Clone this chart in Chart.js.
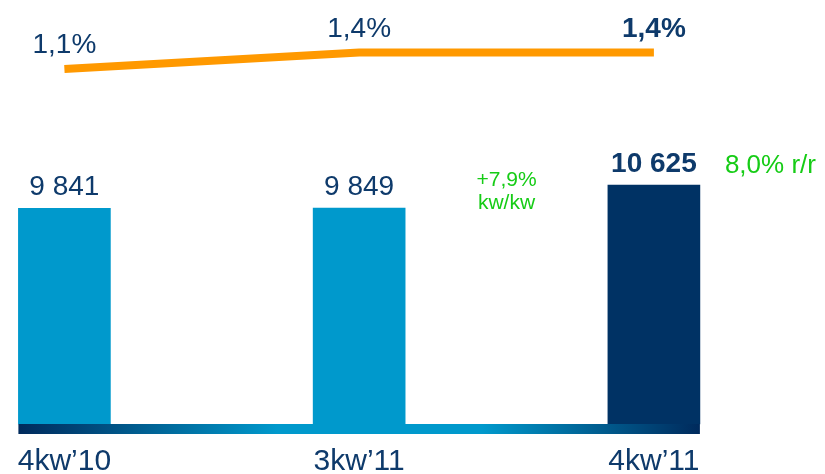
<!DOCTYPE html>
<html>
<head>
<meta charset="utf-8">
<script src="https://cdn.jsdelivr.net/npm/chart.js@4/dist/chart.umd.min.js"></script>
<style>
  html, body { margin: 0; padding: 0; background: #ffffff; }
  #wrap { width: 825px; height: 474px; position: relative; }
</style>
</head>
<body>
<div id="wrap"><canvas id="c"></canvas></div>
<script>
// ---- data ----
const categories = ['4kw\u201910', '3kw\u201911', '4kw\u201911'];
const barValues = [9841, 9849, 10625];
const barLabels = ['9 841', '9 849', '10 625'];
const lineValues = [1.1, 1.4, 1.4];
const lineLabels = ['1,1%', '1,4%', '1,4%'];
const qoqNote = ['+7,9%', 'kw/kw'];
const yoyNote = '8,0% r/r';

const NAVY = '#0E3A6B';
const GREEN = '#16CC16';
const barColors = ['#0099CC', '#0099CC', '#003264'];

const FONT = '"Liberation Sans", Arial, sans-serif';
const Y_MIN = 2600;

const labelPlugin = {
  id: 'labels',
  afterDatasetsDraw(chart) {
    const ctx = chart.ctx;
    const barMeta = chart.getDatasetMeta(1);
    const lineMeta = chart.getDatasetMeta(0);
    const last = barValues.length - 1;
    ctx.save();
    ctx.textAlign = 'center';
    ctx.textBaseline = 'alphabetic';
    ctx.fillStyle = NAVY;
    // bar value labels
    barMeta.data.forEach((el, i) => {
      ctx.font = (i === last ? 'bold ' : '') + '28px ' + FONT;
      ctx.fillText(barLabels[i], el.x, el.y - 13);
    });
    // line labels
    lineMeta.data.forEach((el, i) => {
      ctx.font = (i === last ? 'bold ' : '') + '28px ' + FONT;
      ctx.fillText(lineLabels[i], el.x, el.y - 16);
    });
    // gradient base bar under the bars
    const b0 = barMeta.data[0], b2 = barMeta.data[last];
    const x0 = b0.x - b0.width / 2, x1 = b2.x + b2.width / 2;
    const yb = chart.chartArea.bottom;
    const g = ctx.createLinearGradient(x0, 0, x1, 0);
    g.addColorStop(0, '#002A5C');
    g.addColorStop(0.38, '#0099CC');
    g.addColorStop(0.68, '#0099CC');
    g.addColorStop(1, '#002A5C');
    ctx.fillStyle = g;
    ctx.fillRect(x0, yb, x1 - x0, 10);
    // green notes
    ctx.fillStyle = GREEN;
    ctx.font = '21px ' + FONT;
    const midX = (barMeta.data[1].x + barMeta.data[2].x) / 2;
    ctx.fillText(qoqNote[0], midX, 186);
    ctx.fillText(qoqNote[1], midX, 209);
    ctx.textAlign = 'left';
    ctx.font = '26px ' + FONT;
    ctx.fillText(yoyNote, x1 + 25, 173);
    ctx.restore();
  }
};

new Chart(document.getElementById('c'), {
  data: {
    labels: categories,
    datasets: [
      {
        type: 'line',
        data: lineValues,
        yAxisID: 'y2',
        borderColor: '#FF9900',
        borderWidth: 8,
        borderCapStyle: 'butt',
        pointRadius: 0,
        tension: 0,
        fill: false,
        clip: false
      },
      {
        type: 'bar',
        data: barValues,
        yAxisID: 'y',
        base: Y_MIN,
        backgroundColor: barColors,
        borderWidth: 0,
        barThickness: 92,
        clip: false
      }
    ]
  },
  options: {
    responsive: true,
    maintainAspectRatio: false,
    animation: false,
    layout: { padding: { left: 64.4, right: 171.1, top: 10, bottom: 0 } },
    plugins: { legend: { display: false }, tooltip: { enabled: false } },
    scales: {
      x: {
        type: 'category',
        offset: false,
        grid: { display: false },
        border: { display: false },
        ticks: {
          color: NAVY,
          font: { family: FONT, size: 30 },
          padding: 12,
          maxRotation: 0,
          autoSkip: false
        },
        afterFit(s) { s.height = 50; }
      },
      y: {
        display: false,
        min: Y_MIN,
        max: 16500
      },
      y2: {
        display: false,
        position: 'right',
        min: -5.354,
        max: 2.173
      }
    }
  },
  plugins: [labelPlugin]
});
</script>
</body>
</html>
